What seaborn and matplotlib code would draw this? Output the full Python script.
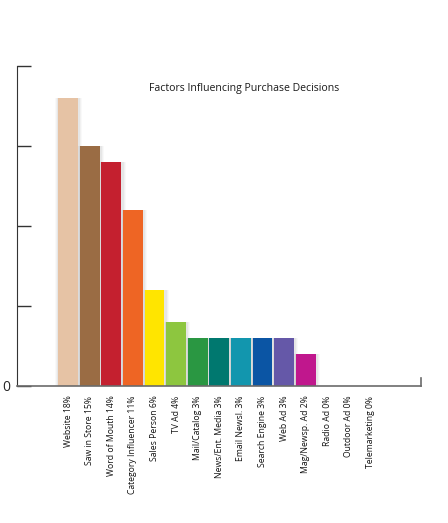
import matplotlib.pyplot as plt
import seaborn as sns
import pandas as pd

# --- data
factors = ['Website', 'Saw in Store', 'Word of Mouth', 'Category Influencer',
           'Sales Person', 'TV Ad', 'Mail/Catalog', 'News/Ent. Media',
           'Email Newsl.', 'Search Engine', 'Web Ad', 'Mag/Newsp. Ad',
           'Radio Ad', 'Outdoor Ad', 'Telemarketing']
shares = [18, 15, 14, 11, 6, 4, 3, 3, 3, 3, 3, 2, 0, 0, 0]
colors = ['#E6C3A5', '#9A6C44', '#C4202F', '#EE6524', '#FFE500', '#8DC63F',
          '#2A9742', '#00786F', '#1296AE', '#0B55A4', '#6558A8', '#C0178D',
          '#FFFFFF', '#FFFFFF', '#FFFFFF']

labels = [f"{f} {v}%" for f, v in zip(factors, shares)]
df = pd.DataFrame({'Factor': labels, 'Share': shares})

sns.set_style("white")
plt.rcParams['font.family'] = ['Open Sans', 'DejaVu Sans']

fig = plt.figure(figsize=(4.48, 5.23), dpi=100)
ax = fig.add_axes([0.038, 0.262, 0.902, 0.612])

# soft shadow behind the bars (a few faint, widening layers)
for w, a in [(1.25, 0.03), (1.15, 0.04), (1.06, 0.06)]:
    ax.bar([i + 0.04 for i in range(len(shares))], shares, width=w,
           color='#444444', alpha=a, linewidth=0, zorder=1)

sns.barplot(data=df, x='Factor', y='Share', hue='Factor', palette=colors,
            legend=False, width=0.92, saturation=1, linewidth=0, ax=ax, zorder=2)

ax.set_xlim(-2.36, 16.34)
ax.set_ylim(0, 20)
ax.set_yticks([0, 5, 10, 15, 20])
ax.set_yticklabels(['0', '', '', '', ''], fontsize=10)
ax.tick_params(axis='y', direction='in', length=10, width=1, color='#333333',
               pad=5, left=True)
ax.tick_params(axis='x', length=0, pad=7, labelsize=6.2, labelcolor='#111111')
plt.setp(ax.get_xticklabels(), rotation=90, ha='center', va='top')

ax.set_xlabel('')
ax.set_ylabel('')
ax.text(0.562, 0.93, "Factors Influencing Purchase Decisions", transform=ax.transAxes,
        ha='center', va='center', fontsize=7.6, color='#1a1a1a')

ax.spines['top'].set_visible(False)
ax.spines['left'].set_color('#333333')
ax.spines['bottom'].set_color('#6b6b6b')
ax.spines['bottom'].set_linewidth(1.2)
ax.spines['right'].set_color('#6b6b6b')
ax.spines['right'].set_bounds(0, 0.5)
ax.spines['right'].set_linewidth(1.2)

fig.savefig("out.png", dpi=100, facecolor='white')
